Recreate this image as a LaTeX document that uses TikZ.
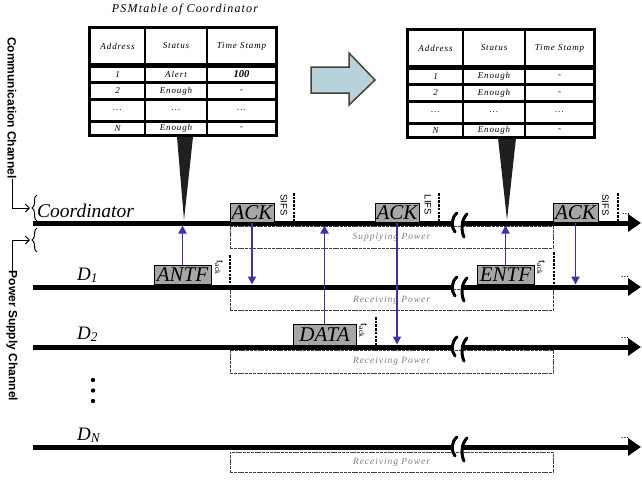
\documentclass[tikz,border=0pt]{standalone}
\usepackage{fontspec}
\setmainfont{Liberation Serif}
\setsansfont{Liberation Sans}
\newfontfamily\spacedserif[LetterSpace=10]{Liberation Serif}
\usetikzlibrary{arrows.meta,decorations.pathreplacing}
\definecolor{arrblue}{RGB}{60,50,160}
\definecolor{bigarrfill}{RGB}{183,210,216}
\definecolor{pktgray}{RGB}{166,166,166}
\tikzset{
  tline/.style={line width=5pt},
  tarrow/.style={line width=5pt,-{Triangle[length=13pt,width=17pt]}},
  brk/.style={line width=3pt,line cap=round},
  pkt/.style={draw=black,fill=pktgray,line width=1pt,inner sep=0pt,minimum height=19pt,font=\fontsize{21}{21}\selectfont\itshape},
  parr/.style={draw=arrblue,line width=1.9pt,-{Triangle[length=8pt,width=8pt]}},
  pbox/.style={draw=black!75,line width=0.8pt,dash pattern=on 3pt off 0.8pt,inner sep=0pt,text=black!50,font=\spacedserif\itshape\fontsize{9.5}{9.5}\selectfont},
  gapdash/.style={line width=1.5pt,dash pattern=on 2.5pt off 1.2pt},
  ifs/.style={rotate=-90,font=\sffamily\fontsize{9.5}{9.5}\selectfont,inner sep=0pt},
  tack/.style={rotate=-90,font=\fontsize{11}{11}\selectfont,inner sep=0pt},
  cell/.style={inner sep=0pt,font=\spacedserif\itshape\fontsize{9}{9}\selectfont},
  dlabel/.style={anchor=base west,inner sep=0pt,font=\fontsize{19}{19}\selectfont\itshape},
  chan/.style={rotate=-90,inner sep=0pt,font=\sffamily\bfseries\fontsize{12}{12}\selectfont},
  moredots/.style={anchor=base,inner sep=0pt,font=\fontsize{11}{11}\selectfont},
  pointer/.style={fill=black!88},
  brc/.style={line width=1pt,decorate,decoration={brace,amplitude=5pt}},
  chanarr/.style={line width=1pt,-{Straight Barb[length=4pt,width=8pt]}}
}
\begin{document}
\begin{tikzpicture}[x=1pt,y=-1pt]
\useasboundingbox (0,0) rectangle (642,479);

% title
\node[inner sep=0pt,font=\spacedserif\itshape\fontsize{12}{12}\selectfont] (title) at (185,10) {PSMtable of Coordinator};

% pointers
\fill[pointer] (177,137) -- (193,137) -- (184,220) -- cycle;
\fill[pointer] (498,138) -- (516,138) -- (507,220) -- cycle;

% table 1
\begin{scope}[shift={(88,26)}]
  \fill (0,0) rectangle (190,111);
  \foreach \xa/\xb in {3/56,58/118,120/187}
    \foreach \ya/\yb in {3/37,42/55,58/72,75/94,97/108}
      \fill[white] (\xa,\ya) rectangle (\xb,\yb);
  \node[cell] (ta-h1) at (29.5,20) {Address};
  \node[cell] (ta-h2) at (88,20) {Status};
  \node[cell] (ta-h3) at (153.5,20) {Time Stamp};
  \node[cell] (ta-a1) at (29.5,48.5) {1};
  \node[cell] (ta-s1) at (88,48.5) {Alert};
  \node[cell,font=\bfseries\itshape\fontsize{10.5}{10.5}\selectfont] (ta-t1) at (153.5,48.5) {100};
  \node[cell] (ta-a2) at (29.5,65) {2};
  \node[cell] (ta-s2) at (88,65) {Enough};
  \node[cell] (ta-t2) at (153.5,65) {-};
  \node[cell] (ta-a3) at (29.5,84.5) {...};
  \node[cell] (ta-s3) at (88,84.5) {...};
  \node[cell] (ta-t3) at (153.5,84.5) {...};
  \node[cell] (ta-a4) at (29.5,102.5) {N};
  \node[cell] (ta-s4) at (88,102.5) {Enough};
  \node[cell] (ta-t4) at (153.5,102.5) {-};
\end{scope}

% table 2
\begin{scope}[shift={(406,28)}]
  \fill (0,0) rectangle (190,111);
  \foreach \xa/\xb in {3/56,58/118,120/187}
    \foreach \ya/\yb in {3/37,42/55,58/72,75/94,97/108}
      \fill[white] (\xa,\ya) rectangle (\xb,\yb);
  \node[cell] (tb-h1) at (29.5,20) {Address};
  \node[cell] (tb-h2) at (88,20) {Status};
  \node[cell] (tb-h3) at (153.5,20) {Time Stamp};
  \node[cell] (tb-a1) at (29.5,48.5) {1};
  \node[cell] (tb-s1) at (88,48.5) {Enough};
  \node[cell] (tb-t1) at (153.5,48.5) {-};
  \node[cell] (tb-a2) at (29.5,65) {2};
  \node[cell] (tb-s2) at (88,65) {Enough};
  \node[cell] (tb-t2) at (153.5,65) {-};
  \node[cell] (tb-a3) at (29.5,84.5) {...};
  \node[cell] (tb-s3) at (88,84.5) {...};
  \node[cell] (tb-t3) at (153.5,84.5) {...};
  \node[cell] (tb-a4) at (29.5,102.5) {N};
  \node[cell] (tb-s4) at (88,102.5) {Enough};
  \node[cell] (tb-t4) at (153.5,102.5) {-};
\end{scope}

% big block arrow
\filldraw[fill=bigarrfill,draw=black!75,line width=1.5pt,line join=miter]
  (311,67) -- (349,67) -- (349,53) -- (375,80) -- (349,105) -- (349,93) -- (311,93) -- cycle;

% power boxes
\node[pbox,minimum width=323pt,minimum height=22pt] (sup) at (391.5,237) {Supplying Power};
\node[pbox,minimum width=323pt,minimum height=21pt] (rec1) at (391.5,300) {Receiving Power};
\node[pbox,minimum width=323pt,minimum height=23pt] (rec2) at (391.5,361.5) {Receiving Power};
\node[pbox,minimum width=323pt,minimum height=20pt] (recn) at (391.5,462) {Receiving Power};

% time lines
\foreach \nm/\yy in {co/223,da/287,db/347,dn/447}{
  \coordinate (\nm-s) at (33,\yy);
  \coordinate (\nm-b) at (453,\yy);
  \coordinate (\nm-c) at (463,\yy);
  \coordinate (\nm-e) at (641,\yy);
  \draw[tline] (\nm-s) -- (\nm-b);
  \draw[tarrow] (\nm-c) -- (\nm-e);
  \draw[brk] (457,\yy-10) .. controls (451,\yy-5) and (451,\yy+4) .. (455,\yy+9);
  \draw[brk] (467,\yy-9) .. controls (461,\yy-3) and (461,\yy+8) .. (464,\yy+14);
}
\coordinate (co-bot) at (0,225.5);
\coordinate (da-top) at (0,284.5);
\coordinate (db-top) at (0,344.5);

% labels on left
\node[dlabel,font=\fontsize{19.5}{19.5}\selectfont\itshape] (coord) at (37,217) {Coordinator};
\node[dlabel] (d1) at (77,280) {D\textsubscript{\itshape 1}};
\node[dlabel] (d2) at (77,339) {D\textsubscript{\itshape 2}};
\node[dlabel] (dN) at (77,440) {D\textsubscript{\itshape N}};
\fill (93,380) circle (2.2pt) (93,390.5) circle (2.2pt) (93,401) circle (2.2pt);

\node[chan] (comm) at (12,108) {Communication Channel};
\node[chan] (pow) at (12,336) {Power Supply Channel};
\draw[brc] (37,221) -- (37,195);
\draw[brc] (37,252) -- (37,228);
\coordinate (brace1) at (30,208);
\coordinate (brace2) at (30,240);
\draw[chanarr] (comm.east) |- (brace1);
\draw[chanarr] (pow.west) |- (brace2);

% packets
\node[pkt,minimum width=44pt] (ack1) at (252,212.5) {ACK};
\node[pkt,minimum width=57pt] (antf) at (182.5,275) {ANTF};
\node[pkt,minimum width=44pt] (ack2) at (397,212.5) {ACK};
\node[pkt,minimum width=57pt] (entf) at (505.5,274.5) {ENTF};
\node[pkt,minimum width=45pt] (ack3) at (575.5,212.5) {ACK};
\node[pkt,minimum width=63pt,minimum height=21pt] (data) at (324.5,334.5) {DATA};

% interframe spaces
\node[ifs] (sifs1) at (284,205) {SIFS};
\node[ifs] (lifs) at (428,205) {LIFS};
\node[ifs] (sifs2) at (605.5,205) {SIFS};
\draw[gapdash] (294,193) -- (294,221);
\draw[gapdash] (439,193) -- (439,221);
\draw[gapdash] (618,193) -- (618,221);
\node[tack] (tack1) at (219,268) {t\textsubscript{ack}};
\node[tack] (tack2) at (541,268) {t\textsubscript{ack}};
\node[tack] (tack3) at (363,331) {t\textsubscript{ack}};
\draw[gapdash] (230,255) -- (230,287);
\draw[gapdash] (554,252) -- (554,287);
\draw[gapdash] (376,317) -- (376,346);

% continuation dots
\node[moredots] (more0) at (626,214) {...};
\node[moredots] (more1) at (625,277) {...};
\node[moredots] (more2) at (625,338) {...};
\node[moredots] (more3) at (625,438) {...};

% message arrows
\draw[parr] (antf.north) -- (antf.north |- co-bot);
\draw[parr] (ack1.south) -- (ack1.south |- da-top);
\draw[parr] (data.north) -- (data.north |- co-bot);
\draw[parr] (ack2.south) -- (ack2.south |- db-top);
\draw[parr] (entf.north) -- (entf.north |- co-bot);
\draw[parr] (ack3.south) -- (ack3.south |- da-top);
\end{tikzpicture}
\end{document}
